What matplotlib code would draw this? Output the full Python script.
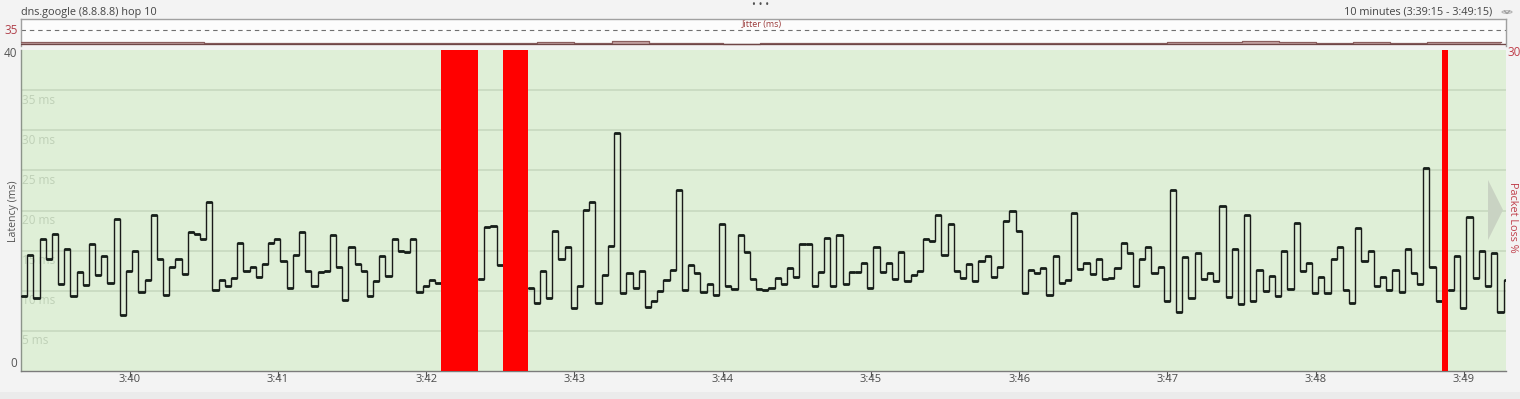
import matplotlib
matplotlib.use('Agg')
import matplotlib.pyplot as plt
import numpy as np
from matplotlib.patches import Polygon, Rectangle, Circle
from matplotlib.lines import Line2D

plt.rcParams['font.family'] = ['Open Sans', 'DejaVu Sans']

# ---------------- data ----------------
title_left = "dns.google (8.8.8.8) hop 10"
title_right = "10 minutes (3:39:15 - 3:49:15)"
sample_interval_s = 2.5          # seconds between samples
sample_start_s = 1.0             # first sample, seconds after 3:39:15
tick_labels = ["3:40", "3:41", "3:42", "3:43", "3:44", "3:45", "3:46", "3:47", "3:48", "3:49"]
tick_seconds = [45, 105, 165, 225, 285, 345, 405, 465, 525, 585]   # seconds after 3:39:15

# latency in ms per sample, None = lost packet
latency = [
    9.4, 14.5, 9.1, 16.5, 14.0, 17.1, 10.8, 15.2, 9.4, 12.3,
    10.7, 15.8, 12.0, 14.3, 11.0, 19.0, 7.0, 12.5, 14.9, 9.9,
    11.3, 19.5, 13.9, 9.5, 12.9, 14.0, 12.1, 17.3, 17.1, 16.5,
    21.0, 10.1, 11.3, 10.6, 11.6, 16.0, 12.5, 13.0, 11.7, 13.3,
    16.0, 16.5, 13.75, 10.4, 14.5, 17.3, 12.4, 10.6, 12.3, 12.4,
    17.0, 13.0, 8.9, 15.4, 13.3, 12.5, 9.3, 11.2, 14.3, 11.9,
    16.4, 14.9, 14.8, 16.5, 9.9, 10.6, 11.3, 11.0,
    None, None, None, None, None, None,
    11.5, 18.0, 18.1, 13.2,
    None, None, None, None,
    10.3, 8.5, 12.4, 9.1, 17.4, 13.9, 15.4, 7.8, 10.6, 20.1,
    21.0, 8.5, 12.0, 15.6, 29.7, 9.75, 12.2, 10.3, 12.4, 8.0,
    8.7, 10.0, 11.3, 12.6, 22.6, 10.1, 13.2, 12.2, 9.9, 10.8,
    9.5, 18.3, 10.6, 10.2, 17.0, 14.8, 11.5, 10.2,
    10.1,
    10.4, 11.6, 10.8, 12.8, 11.7, 15.8, 15.8, 10.6, 12.3, 16.6,
    10.6, 17.0, 10.8, 12.3, 12.3, 13.4, 10.3, 15.4, 12.3, 13.4,
    11.5, 14.8, 11.2, 12.0, 12.5, 16.5, 16.25, 19.4, 14.5, 18.3,
    12.5, 11.6, 13.3, 11.2, 13.7, 14.3, 11.7, 12.9, 18.75, 19.9,
    17.5, 9.7, 12.6, 12.2, 12.8, 9.5, 14.3, 11.0, 11.4, 19.7,
    12.7, 13.5, 12.1, 14.0, 11.5, 11.6, 12.8, 16.0, 14.75, 10.6,
    14.0, 15.4, 12.2, 12.9, 8.7, 22.5, 7.4, 14.25, 9.1, 14.75,
    11.5, 12.2, 11.2, 20.6, 9.2, 15.2, 8.4, 19.4, 8.7, 12.6,
    10.0, 11.9, 9.4, 15.0, 10.25, 18.4, 12.4, 13.4, 9.75, 11.7,
    9.75, 14.0, 15.4, 10.1, 8.5, 17.8, 13.7, 14.9, 10.6, 11.7,
    10.1, 12.6, 9.9, 15.2, 12.2, 10.9, 25.3, 13.0, 8.7, None,
    10.1, 14.3, 7.8, 19.2, 11.6, 14.9, 10.6, 14.75, 7.4, 11.4,
]

# jitter (ms) per 15-second block
jitter_block_s = 15
jitter = [4.5, 4.5, 4.5, 4.5, 4.5, 3.5, 1.5, 1.5, 1.5, 1.5,
          1.5, 1.5, 1.5, 1.5, 6.0, 3.0, 7.0, 3.0, 3.0, 1.0,
          3.0, 1.5, 1.5, 1.5, 1.5, 1.5, 1.5, 1.5, 1.5, 1.5,
          1.5, 4.0, 4.5, 7.0, 4.5, 2.5, 4.5, 1.5, 4.5, 4.5]

latency_grid = [5, 10, 15, 20, 25, 30, 35]

# ---------------- figure ----------------
W, H = 1520, 399
fig = plt.figure(figsize=(W / 100, H / 100), dpi=100, facecolor='#f3f3f3')

def frac(x0, y0, x1, y1):
    return [x0 / W, 1 - y1 / H, (x1 - x0) / W, (y1 - y0) / H]

# bottom band
fig.patches.append(Rectangle((0, 0), 1, 7 / H, transform=fig.transFigure,
                             facecolor='#ebebeb', edgecolor='none', zorder=0))

XMIN, XMAX = 1.0, 602.0

# ---------------- main latency axes ----------------
ax = fig.add_axes(frac(21, 50, 1506, 371))
ax.set_facecolor('#dfefd7')
ax.set_xlim(XMIN, XMAX)
ax.set_ylim(0, 40)

lat = np.array([np.nan if v is None else v for v in latency], dtype=float)
t = sample_start_s + np.arange(len(lat)) * sample_interval_s

for g in latency_grid:
    ax.axhline(g, color='#c6d7be', lw=1.1, zorder=1)
    ax.text(0.0008, g - 0.45, f"{g} ms", transform=ax.get_yaxis_transform(),
            ha='left', va='top', fontsize=8.5, color='#bfd0b7', zorder=1)

edges = np.append(t, t[-1] + sample_interval_s)
ax.step(edges, np.append(lat, lat[-1]), where='post', color='#1a1a1a', lw=1.0, zorder=3)
ax.hlines(lat, t, t + sample_interval_s, color='#17201a', lw=2.0, zorder=4)

ax.set_yticks([])
ax.set_xticks(tick_seconds)
ax.set_xticklabels(tick_labels, fontsize=8, color='#4a4a4a')
ax.tick_params(axis='x', length=4, width=0.8, color='#555555', pad=-2.0)
for s in ['top', 'right']:
    ax.spines[s].set_visible(False)
ax.spines['left'].set_color('#8c948a')
ax.spines['bottom'].set_color('#7b7b7b')
ax.spines['left'].set_linewidth(1.0)
ax.spines['bottom'].set_linewidth(1.0)

ax.text(-0.0027, 39.6, "40", transform=ax.get_yaxis_transform(), ha='right', va='center',
        fontsize=8.5, color='#555555')
ax.text(-0.0027, 0.9, "0", transform=ax.get_yaxis_transform(), ha='right', va='center',
        fontsize=8.5, color='#555555')
fig.text(13.5 / W, 1 - 211 / H, "Latency (ms)", rotation=90, ha='center', va='center',
         fontsize=7.6, color='#555555')

# packet loss on twin axis
loss = np.array([100.0 if v is None else 0.0 for v in latency])
ax2 = ax.twinx()
ax2.set_ylim(0, 30)
ax2.set_xlim(XMIN, XMAX)
ax2.bar(t, loss, width=sample_interval_s, align='edge', color='#ff0000', edgecolor='none', zorder=5)
ax2.set_yticks([])
for s in ['top', 'right', 'left', 'bottom']:
    ax2.spines[s].set_visible(False)
fig.text(1507 / W, 1 - 53 / H, "30", ha='left', va='center', fontsize=8.5, color='#c0404c')
fig.text(1513 / W, 1 - 217 / H, "Packet Loss %", rotation=270, ha='center', va='center',
         fontsize=7.8, color='#c0404c')

# grey arrow at right
fig.patches.append(Polygon([(1488 / W, 1 - 180 / H), (1503 / W, 1 - 210 / H), (1488 / W, 1 - 240 / H)],
                           closed=True, transform=fig.transFigure, facecolor='#c9d3c3',
                           edgecolor='none', zorder=10))

# ---------------- jitter strip ----------------
axj = fig.add_axes(frac(21, 19, 1506, 46))
axj.set_facecolor('#fcfcfc')
axj.set_xlim(XMIN, XMAX)
axj.set_ylim(-5, 62.5)
axj.axhline(35, color='#6f6f6f', lw=0.8, linestyle=(0, (4, 3.5)))
jt = np.arange(len(jitter)) * jitter_block_s
jv = np.array(jitter, dtype=float)
jedges = np.append(jt, jt[-1] + jitter_block_s)
axj.fill_between(jedges, 0, np.append(jv, jv[-1]), step='post', facecolor='#c7a5a5',
                 edgecolor='none', zorder=2)
axj.step(jedges, np.append(jv, jv[-1]), where='post', color='#8a5e5e', lw=0.9, zorder=3)
axj.plot([XMIN, XMAX], [0, 0], color='#6e4646', lw=1.0, zorder=3)
axj.set_xticks([])
axj.set_yticks([])
axj.spines['bottom'].set_visible(False)
for s in ['top', 'left', 'right']:
    axj.spines[s].set_color('#a0a0a0')
    axj.spines[s].set_linewidth(1.0)
fig.text(18 / W, 1 - 30 / H, "35", ha='right', va='center', fontsize=8.5, color='#b0404a')
fig.text(762 / W, 1 - 24 / H, "Jitter (ms)", ha='center', va='center', fontsize=6.5, color='#9b3b3b')

# ---------------- header ----------------
fig.text(21 / W, 1 - 12 / H, title_left, ha='left', va='center', fontsize=7.8, color='#444444')
fig.text(1492 / W, 1 - 12 / H, title_right, ha='right', va='center', fontsize=7.8, color='#444444')
fig.patches.append(Circle((1507 / W, 1 - 12 / H), 5 / W, transform=fig.transFigure,
                          facecolor='#f3f3f3', edgecolor='#b5b5b5', lw=0.8))
fig.lines.append(Line2D([1504.5 / W, 1507 / W, 1509.5 / W], [1 - 11 / H, 1 - 13.5 / H, 1 - 11 / H],
                        transform=fig.transFigure, color='#9a9a9a', lw=0.9))
fig.text(761 / W, 1 - 5 / H, "• • •", ha='center', va='center', fontsize=7.5, color='#505050')

fig.savefig('out.png', dpi=100, facecolor=fig.get_facecolor())
